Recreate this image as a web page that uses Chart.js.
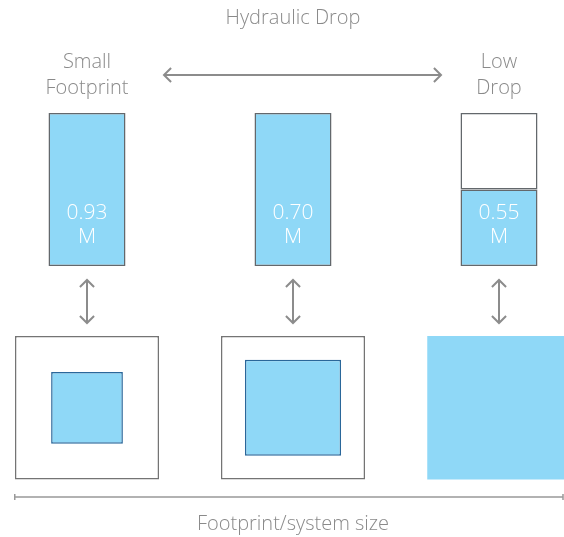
<!DOCTYPE html>
<html><head><meta charset="utf-8">
<script src="https://cdn.jsdelivr.net/npm/chart.js@4"></script>
<style>html,body{margin:0;padding:0;background:#fff}#wrap{width:564px;height:537px;position:relative}</style>
</head><body><div id="wrap"><canvas id="c"></canvas></div>
<script>
// ---- data ----
const categories = [['Small', 'Footprint'], '', ['Low', 'Drop']];
const dropValues = [0.93, 0.70, 0.55];
const dropUnit = 'M';
const fillLevels = [1.0, 1.0, 0.5];          // blue share of each drop box
const footprintSizes = [0.5, 0.67, 1.0];     // system size relative to the frame
const titleText = 'Hydraulic Drop';
const bottomText = 'Footprint/system size';

// ---- style / layout ----
const FONT = '"Open Sans"';
const TEXT = '#8a8a8a';
const BLUE = '#8fd8f7';
const BAR_BORDER = '#63686c';
const FRAME_BORDER = '#747474';
const INNER_BORDER = '#2a679a';
const PAD_L = 87, PAD_R = 65, W = 564;
const SPACING = (W - PAD_L - PAD_R) / (categories.length - 1);
const BAR_PX = 77, FRAME_PX = 143.5;
const LABEL_LEVEL = 0.268;

const innerSets = footprintSizes.map((s, i) => ({
  type: 'bar',
  yAxisID: 'y2',
  data: categories.map((_, j) => j === i ? [0.5 - s / 2, 0.5 + s / 2] : null),
  backgroundColor: BLUE,
  borderColor: INNER_BORDER,
  borderWidth: s >= 1 ? 0 : 1.5,
  borderSkipped: false,
  barPercentage: s * FRAME_PX / SPACING,
  categoryPercentage: 1,
  grouped: false,
  clip: false,
  order: 1
}));

function arrowHead(ctx, x, y, dx, dy, len) {
  const a = Math.atan2(dy, dx);
  ctx.beginPath();
  ctx.moveTo(x - len * Math.cos(a - Math.PI / 4), y - len * Math.sin(a - Math.PI / 4));
  ctx.lineTo(x, y);
  ctx.lineTo(x - len * Math.cos(a + Math.PI / 4), y - len * Math.sin(a + Math.PI / 4));
  ctx.stroke();
}
function doubleArrow(ctx, x1, y1, x2, y2) {
  ctx.beginPath(); ctx.moveTo(x1, y1); ctx.lineTo(x2, y2); ctx.stroke();
  arrowHead(ctx, x2, y2, x2 - x1, y2 - y1, 10);
  arrowHead(ctx, x1, y1, x1 - x2, y1 - y2, 10);
}

const decor = {
  id: 'decor',
  afterDatasetsDraw(chart) {
    const ctx = chart.ctx;
    const y = chart.scales.y, y2 = chart.scales.y2;
    const fillMeta = chart.getDatasetMeta(0);
    ctx.save();
    // values inside the drop boxes
    ctx.fillStyle = '#ffffff';
    ctx.font = '300 21px ' + FONT;
    ctx.textAlign = 'center';
    ctx.textBaseline = 'middle';
    const yc = y.getPixelForValue(LABEL_LEVEL);
    dropValues.forEach((v, i) => {
      const el = fillMeta.data[i];
      ctx.fillText(v.toFixed(2), el.x, yc - 12);
      ctx.fillText(dropUnit, el.x, yc + 12);
    });
    // vertical arrows between drop box and footprint
    ctx.strokeStyle = '#8c8c8c';
    ctx.lineWidth = 2;
    const yTop = y.getPixelForValue(0) + 14;
    const yBot = y2.getPixelForValue(1) - 13;
    fillMeta.data.forEach(el => doubleArrow(ctx, el.x, yTop, el.x, yBot));
    // horizontal arrow under title
    const cx = (fillMeta.data[0].x + fillMeta.data[2].x) / 2 + 9;
    doubleArrow(ctx, cx - 138, 75, cx + 139, 75);
    // bottom scale line
    const yl = y2.getPixelForValue(0) + 17.5;
    const xl = fillMeta.data[0].x - FRAME_PX / 2 - 0.5, xr = W - 1;
    ctx.strokeStyle = '#999999';
    ctx.lineWidth = 1.5;
    ctx.beginPath(); ctx.moveTo(xl, yl); ctx.lineTo(xr, yl); ctx.stroke();
    ctx.beginPath(); ctx.moveTo(xl, yl - 3); ctx.lineTo(xl, yl + 3); ctx.moveTo(xr, yl - 3); ctx.lineTo(xr, yl + 3); ctx.stroke();
    ctx.restore();
  }
};

new Chart(document.getElementById('c'), {
  type: 'bar',
  data: {
    labels: categories,
    datasets: [
      {
        label: 'Hydraulic drop',
        data: fillLevels,
        backgroundColor: BLUE,
        borderColor: BAR_BORDER,
        borderWidth: 1.5,
        borderSkipped: false,
        barPercentage: BAR_PX / SPACING,
        categoryPercentage: 1,
        grouped: false,
        clip: false,
        order: 1
      },
      {
        label: 'Remaining',
        data: fillLevels.map(f => f < 1 ? [f, 1] : null),
        backgroundColor: '#ffffff',
        borderColor: BAR_BORDER,
        borderWidth: 1.5,
        borderSkipped: false,
        barPercentage: BAR_PX / SPACING,
        categoryPercentage: 1,
        grouped: false,
        clip: false,
        order: 2
      },
      {
        label: 'Frame',
        yAxisID: 'y2',
        data: footprintSizes.map(s => s < 1 ? [0, 1] : null),
        backgroundColor: '#ffffff',
        borderColor: FRAME_BORDER,
        borderWidth: 1.5,
        borderSkipped: false,
        barPercentage: (FRAME_PX + 0.5) / SPACING,
        categoryPercentage: 1,
        grouped: false,
        clip: false,
        order: 5
      },
      ...innerSets
    ]
  },
  options: {
    responsive: true,
    maintainAspectRatio: false,
    animation: false,
    devicePixelRatio: 1,
    layout: { padding: { left: PAD_L, right: PAD_R, top: 0, bottom: 0 } },
    plugins: {
      legend: { display: false },
      tooltip: { enabled: false },
      title: {
        display: true, text: titleText, color: TEXT,
        font: { family: FONT, size: 20, weight: '300', lineHeight: 1.2 },
        padding: { top: 6, bottom: 15 }
      },
      subtitle: {
        display: true, position: 'bottom', text: bottomText, color: TEXT,
        font: { family: FONT, size: 20, weight: '300', lineHeight: 1.2 },
        padding: { top: 8.8, bottom: 1 }
      }
    },
    scales: {
      x: {
        type: 'category', position: 'top', offset: false,
        grid: { display: false, drawTicks: false },
        border: { display: false },
        ticks: {
          color: TEXT, padding: 4, maxRotation: 0, autoSkip: false,
          font: { family: FONT, size: 20, weight: '300', lineHeight: 1.3 }
        }
      },
      y: { display: false, min: -1.5503, max: 1.0523 },
      y2: { display: false, min: -0.165, max: 2.6098 }
    }
  },
  plugins: [decor]
});
</script>
</body></html>
